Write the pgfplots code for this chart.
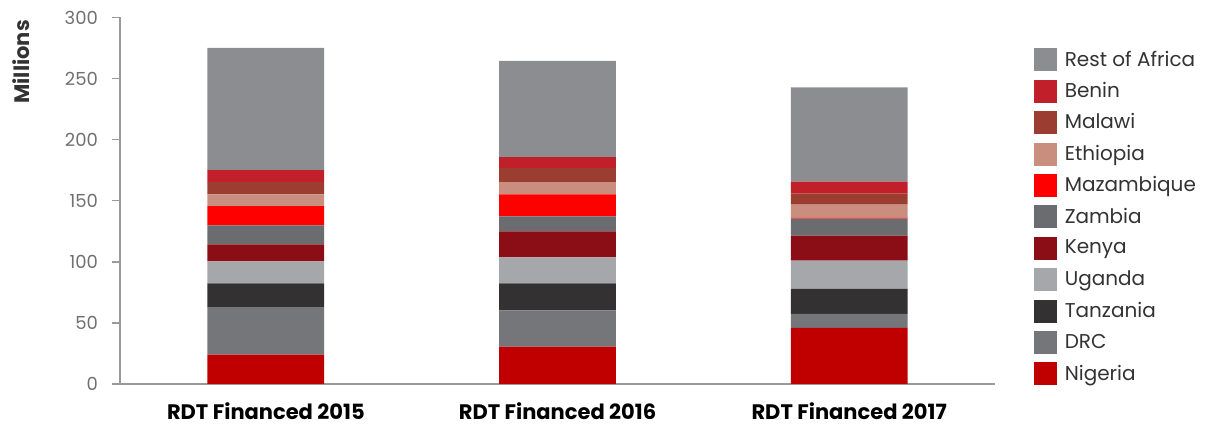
\documentclass[border=0pt]{standalone}
\usepackage{pgfplots}
\pgfplotsset{compat=1.18}
\usepackage{pgfplotstable}
\usepackage{fontspec}
\setmainfont{Poppins}

\definecolor{cNigeria}{HTML}{C00000}
\definecolor{cDRC}{HTML}{75767A}
\definecolor{cTanzania}{HTML}{333132}
\definecolor{cUganda}{HTML}{A6A7AB}
\definecolor{cKenya}{HTML}{8B0E16}
\definecolor{cZambia}{HTML}{6B6C70}
\definecolor{cMoz}{HTML}{FF0000}
\definecolor{cEthiopia}{HTML}{C98E7E}
\definecolor{cMalawi}{HTML}{9C3D31}
\definecolor{cBenin}{HTML}{C1202B}
\definecolor{cRest}{HTML}{8C8D91}
\definecolor{axisgray}{HTML}{9A9A9A}
\definecolor{ticktext}{HTML}{707070}
\definecolor{textdark}{HTML}{333333}

% RDT financed, millions
\pgfplotstableread{
x Nigeria DRC Tanzania Uganda Kenya Zambia Moz Ethiopia Malawi Benin Rest
0 24.1 38.5 19.7 18.1 13.9 15.6 15.6 9.8 9.9 9.8 100.1
1 30.6 29.6 22.1 21.3 21.4 12.3 18.0 9.9 11.4 9.1 78.7
2 45.9 11.5 20.5 23.0 20.5 14.0 0.8 10.6 9.1 9.8 77.1
}\rdt

\pgfplotsset{sq/.style={legend image code/.code={\fill[##1] (0pt,-5.75pt) rectangle (11.5pt,5.75pt);}}}

\begin{document}
\begin{tikzpicture}
\begin{axis}[
scale only axis,
width=437.5pt, height=183.25pt,
at={(0,0)}, anchor=south west,
ybar stacked, bar width=0.4,
xmin=-0.5, xmax=2.5,
ymin=0, ymax=300, ytick={0,50,...,300},
enlargelimits=false,
xtick=data,
xticklabels={RDT Financed 2015,RDT Financed 2016,RDT Financed 2017},
xticklabel style={font=\bfseries\fontsize{10.5}{12}\selectfont, text=black, yshift=-2pt},
yticklabel style={font=\fontsize{9}{10}\selectfont, text=ticktext, xshift=-3.5pt},
/pgf/number format/assume math mode=true,
axis x line*=bottom, axis y line*=left,
x axis line style={axisgray, line width=1pt},
y axis line style={axisgray, line width=0.75pt},
xtick style={draw=none},
ytick style={axisgray, line width=0.75pt},
tick align=outside, major tick length=4pt,
ylabel={Millions},
ylabel style={at={(axis description cs:-0.113,0.879)}, anchor=center, font=\bfseries\fontsize{10.5}{12}\selectfont, text=textdark},
reverse legend,
legend cell align=left,
legend style={draw=none, fill=none, at={(axis description cs:1.037,0.939)}, anchor=north west,
  font=\fontsize{10}{12}\selectfont, text=textdark,
  nodes={inner sep=1.5pt, minimum height=15.7pt}, row sep=0pt,
  /tikz/every odd column/.append style={column sep=2.5pt}},
]
\addplot+[fill=cNigeria, draw=none, sq] table[x=x, y=Nigeria] {\rdt};
\addlegendentry{Nigeria}
\addplot+[fill=cDRC, draw=none, sq] table[x=x, y=DRC] {\rdt};
\addlegendentry{DRC}
\addplot+[fill=cTanzania, draw=none, sq] table[x=x, y=Tanzania] {\rdt};
\addlegendentry{Tanzania}
\addplot+[fill=cUganda, draw=none, sq] table[x=x, y=Uganda] {\rdt};
\addlegendentry{Uganda}
\addplot+[fill=cKenya, draw=none, sq] table[x=x, y=Kenya] {\rdt};
\addlegendentry{Kenya}
\addplot+[fill=cZambia, draw=none, sq] table[x=x, y=Zambia] {\rdt};
\addlegendentry{Zambia}
\addplot+[fill=cMoz, draw=none, sq] table[x=x, y=Moz] {\rdt};
\addlegendentry{Mazambique}
\addplot+[fill=cEthiopia, draw=none, sq] table[x=x, y=Ethiopia] {\rdt};
\addlegendentry{Ethiopia}
\addplot+[fill=cMalawi, draw=none, sq] table[x=x, y=Malawi] {\rdt};
\addlegendentry{Malawi}
\addplot+[fill=cBenin, draw=none, sq] table[x=x, y=Benin] {\rdt};
\addlegendentry{Benin}
\addplot+[fill=cRest, draw=none, sq] table[x=x, y=Rest] {\rdt};
\addlegendentry{Rest of Africa}
\end{axis}
\path[use as bounding box] (-60pt,-16.5pt) rectangle (550pt,192pt);
\end{tikzpicture}
\end{document}
